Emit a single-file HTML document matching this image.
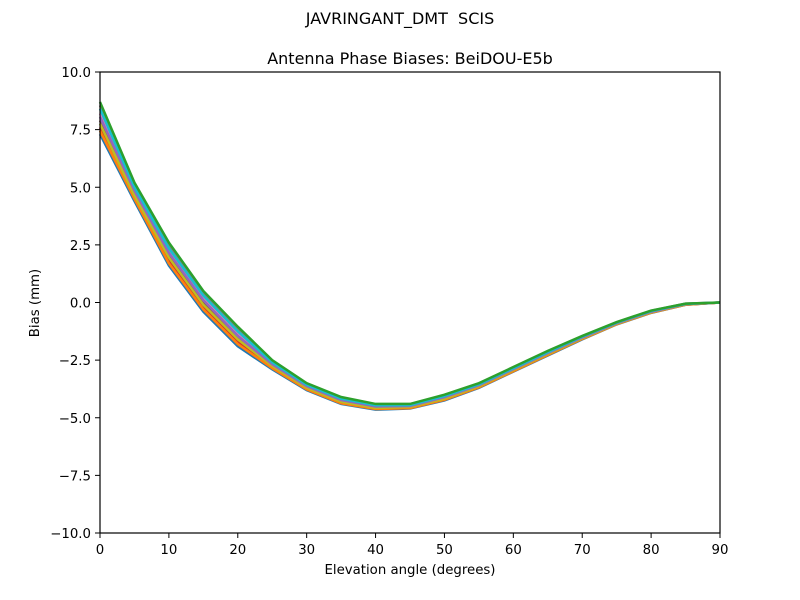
<!DOCTYPE html>
<html><head><meta charset="utf-8"><style>body{margin:0;background:#fff}svg{display:block;font-family:"DejaVu Sans","Liberation Sans",sans-serif}</style></head>
<body>
<svg id="chart" width="800" height="600" viewBox="0 0 800 600">
<rect width="800" height="600" fill="#fff"/>
<text x="400" y="24" text-anchor="middle" font-size="16" style="white-space:pre">JAVRINGANT_DMT  SCIS</text>
<text x="410" y="64" text-anchor="middle" font-size="16">Antenna Phase Biases: BeiDOU-E5b</text>
<g id="series"></g>
<rect x="100" y="72" width="620" height="461" fill="none" stroke="#000" stroke-width="1.2"/>
<g id="xt"></g>
<g id="yt"></g>
<text x="410" y="574" text-anchor="middle" font-size="13.3">Elevation angle (degrees)</text>
<text x="0" y="0" transform="translate(39,303) rotate(-90)" text-anchor="middle" font-size="13.3">Bias (mm)</text>
</svg>
<script>
const elev=[0,5,10,15,20,25,30,35,40,45,50,55,60,65,70,75,80,85,90];
const xTicks=[0,10,20,30,40,50,60,70,80,90];
const yTicks=[-10,-7.5,-5,-2.5,0,2.5,5,7.5,10];
const s0=[7.3,4.4,1.6,-0.4,-1.9,-2.9,-3.8,-4.4,-4.65,-4.6,-4.25,-3.7,-3.0,-2.3,-1.6,-0.95,-0.45,-0.1,0];
const s1=[7.45,4.5,1.7,-0.3,-1.8,-2.85,-3.77,-4.37,-4.62,-4.58,-4.22,-3.68,-2.98,-2.28,-1.58,-0.94,-0.44,-0.1,0];
const s2=[7.6,4.6,1.8,-0.2,-1.7,-2.8,-3.73,-4.33,-4.6,-4.55,-4.2,-3.66,-2.96,-2.26,-1.57,-0.93,-0.43,-0.09,0];
const s3=[7.75,4.65,1.95,-0.1,-1.6,-2.75,-3.7,-4.3,-4.57,-4.53,-4.17,-3.63,-2.93,-2.23,-1.55,-0.92,-0.42,-0.08,0];
const s4=[7.9,4.75,2.05,0,-1.5,-2.72,-3.67,-4.27,-4.54,-4.51,-4.14,-3.61,-2.91,-2.21,-1.53,-0.91,-0.41,-0.08,0];
const s5=[8.05,4.85,2.15,0.1,-1.45,-2.68,-3.63,-4.23,-4.51,-4.49,-4.11,-3.59,-2.89,-2.19,-1.52,-0.9,-0.4,-0.07,0];
const s6=[8.2,4.95,2.25,0.2,-1.35,-2.63,-3.6,-4.2,-4.48,-4.47,-4.08,-3.57,-2.87,-2.17,-1.5,-0.88,-0.38,-0.07,0];
const s7=[8.4,5.0,2.35,0.3,-1.25,-2.6,-3.57,-4.17,-4.46,-4.45,-4.06,-3.55,-2.85,-2.15,-1.48,-0.87,-0.37,-0.06,0];
const s8=[8.55,5.1,2.5,0.4,-1.15,-2.55,-3.53,-4.13,-4.43,-4.42,-4.03,-3.52,-2.82,-2.12,-1.47,-0.86,-0.36,-0.05,0];
const s9=[8.7,5.2,2.6,0.5,-1.05,-2.5,-3.5,-4.1,-4.4,-4.4,-4.0,-3.5,-2.8,-2.1,-1.45,-0.85,-0.35,-0.05,0];
const seriesList=[s0,s2,s4,s6,s8,s1,s3,s5,s7,s9];
const colors=['#1f77b4','#d62728','#8c564b','#e377c2','#7f7f7f','#ff7f0e','#bcbd22','#9467bd','#17becf','#2ca02c'];
const NS='http://www.w3.org/2000/svg';
const X=v=>100+v/90*620, Y=v=>72+(10-v)/20*461;
const g=document.getElementById('series');
seriesList.forEach((s,i)=>{
  const p=document.createElementNS(NS,'polyline');
  p.setAttribute('points',s.map((v,j)=>X(elev[j])+','+Y(v)).join(' '));
  p.setAttribute('fill','none');p.setAttribute('stroke',colors[i]);p.setAttribute('stroke-width','2.5');
  
  
  g.appendChild(p);
});
const xt=document.getElementById('xt'),yt=document.getElementById('yt');
xTicks.forEach(v=>{
  const l=document.createElementNS(NS,'line');
  l.setAttribute('x1',X(v));l.setAttribute('x2',X(v));l.setAttribute('y1',533);l.setAttribute('y2',538);l.setAttribute('stroke','#000');
  
  
  xt.appendChild(l);
  const t=document.createElementNS(NS,'text');
  t.setAttribute('x',X(v));t.setAttribute('y',554);t.setAttribute('text-anchor','middle');t.setAttribute('font-size','13.3');
  t.textContent=String(v);
  
  
  xt.appendChild(t);
});
yTicks.forEach(v=>{
  const l=document.createElementNS(NS,'line');
  l.setAttribute('x1',95);l.setAttribute('x2',100);l.setAttribute('y1',Y(v));l.setAttribute('y2',Y(v));l.setAttribute('stroke','#000');
  
  
  yt.appendChild(l);
  const t=document.createElementNS(NS,'text');
  t.setAttribute('x',91);t.setAttribute('y',Y(v)+5);t.setAttribute('text-anchor','end');t.setAttribute('font-size','13.3');
  t.textContent=(v<0?'\u2212':'')+Math.abs(v).toFixed(1);
  
  
  xt.appendChild(t);
});
</script>
</body></html>
